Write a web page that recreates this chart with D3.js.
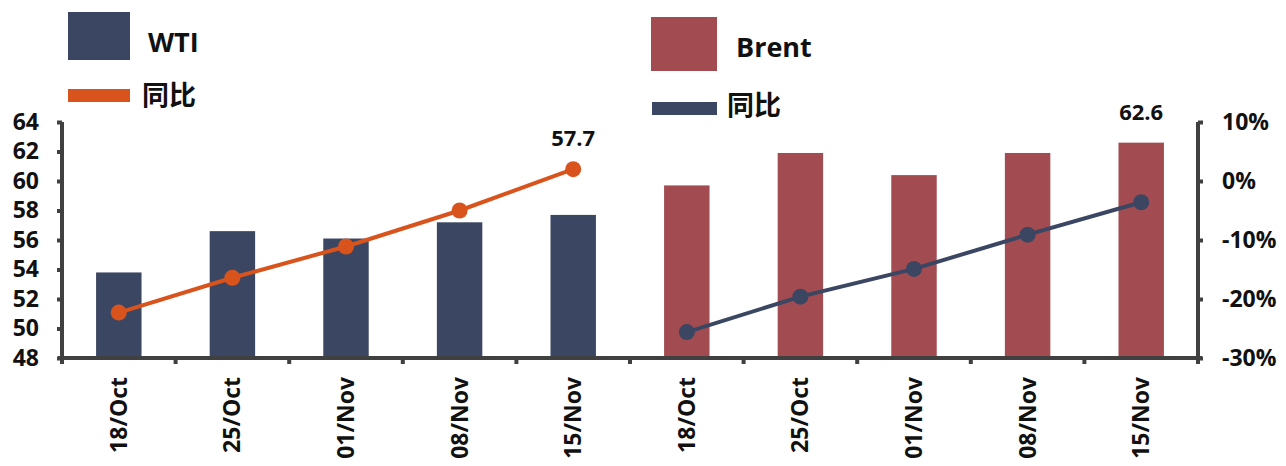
<!DOCTYPE html>
<html>
<head>
<meta charset="utf-8">
<script src="https://cdn.jsdelivr.net/npm/d3@7"></script>
<style>
  body { margin: 0; background: #fff; overflow: hidden; }
  text { font-family: "Open Sans", "Noto Sans CJK SC", sans-serif; font-weight: bold; fill: #111; }
</style>
</head>
<body>
<div id="screen"></div>
<script>
// weekly dates, used for both groups
const dates = ["18/Oct", "25/Oct", "01/Nov", "08/Nov", "15/Nov"];
// prices, left axis
const wtiPrice = [53.8, 56.6, 56.1, 57.2, 57.7];
const brentPrice = [59.7, 61.9, 60.4, 61.9, 62.6];
// year on year change (%), right axis
const wtiYoy = [-22.3, -16.4, -11.1, -5.0, 2.0];
const brentYoy = [-25.6, -19.6, -14.9, -9.1, -3.6];
const leftTicks = [48, 50, 52, 54, 56, 58, 60, 62, 64];
const rightTicks = [-30, -20, -10, 0, 10];

const W = 1286, H = 466;
const margin = {left: 62, right: 88, top: 122, bottom: 108};
const navy = "#3b4663", brick = "#a24c52", orange = "#d9541d", axisCol = "#404040";

var svg = d3.select("#screen").append("svg").attr("width", W).attr("height", H);

var keys = dates.map(d => "W" + d).concat(dates.map(d => "B" + d));
var x = d3.scaleBand().domain(keys).range([margin.left, W - margin.right]).paddingInner(0.6).paddingOuter(0.3);
var step = (W - margin.right - margin.left) / keys.length;
var yL = d3.scaleLinear().domain([48, 64]).range([H - margin.bottom, margin.top]);
var yR = d3.scaleLinear().domain([-30, 10]).range([H - margin.bottom, margin.top]);

var groups = [
    {name: "WTI", price: wtiPrice, yoy: wtiYoy, bar: navy, line: orange, pre: "W"},
    {name: "Brent", price: brentPrice, yoy: brentYoy, bar: brick, line: navy, pre: "B"}
];

// bars
groups.forEach(g => {
    svg.selectAll(null).data(g.price).enter().append("rect")
        .attr("x", (d, i) => x(g.pre + dates[i]))
        .attr("width", x.bandwidth())
        .attr("y", d => yL(d))
        .attr("height", d => yL(48) - yL(d))
        .attr("fill", g.bar);
});

// axes
var bottomY = H - margin.bottom;
var axisL = svg.append("g").attr("transform", "translate(" + margin.left + ",0)")
    .call(d3.axisLeft(yL).tickValues(leftTicks).tickSize(5).tickPadding(18));
var axisR = svg.append("g").attr("transform", "translate(" + (W - margin.right) + ",0)")
    .call(d3.axisRight(yR).tickValues(rightTicks).tickSize(5).tickPadding(19).tickFormat(d => d + "%"));

[axisL, axisR].forEach(a => {
    a.select(".domain").attr("stroke", axisCol).attr("stroke-width", 4)
        .attr("d", "M0," + margin.top + "V" + bottomY);
    a.selectAll(".tick line").attr("stroke", axisCol).attr("stroke-width", 4);
    a.selectAll(".tick text").style("font-size", "23px").attr("fill", "#111");
});

var xTicks = d3.range(keys.length + 1).map(i => margin.left + i * step);
var axisB = svg.append("g");
axisB.selectAll("line.tk").data(xTicks).enter().append("line")
    .attr("x1", d => d).attr("x2", d => d)
    .attr("y1", bottomY).attr("y2", bottomY + 6)
    .attr("stroke", axisCol).attr("stroke-width", 4);
axisB.append("line")
    .attr("x1", margin.left - 4).attr("x2", W - margin.right + 4)
    .attr("y1", bottomY).attr("y2", bottomY)
    .attr("stroke", axisCol).attr("stroke-width", 4);

// category labels
svg.selectAll("text.cat").data(keys).enter().append("text")
    .attr("class", "cat")
    .attr("transform", d => "translate(" + (x(d) + x.bandwidth() / 2) + "," + (bottomY + 19) + ") rotate(-90)")
    .attr("text-anchor", "end")
    .attr("dy", "0.35em")
    .style("font-size", "23px")
    .text(d => d.slice(1));

// lines
groups.forEach(g => {
    var pts = g.yoy.map((v, i) => [x(g.pre + dates[i]) + x.bandwidth() / 2, yR(v)]);
    svg.append("path").attr("d", d3.line()(pts))
        .attr("fill", "none").attr("stroke", g.line).attr("stroke-width", 4);
    svg.selectAll(null).data(pts).enter().append("circle")
        .attr("cx", d => d[0]).attr("cy", d => d[1]).attr("r", 8)
        .attr("fill", g.line);
    // last value label, above whichever mark is higher
    var last = g.price.length - 1;
    svg.append("text")
        .attr("x", x(g.pre + dates[last]) + x.bandwidth() / 2)
        .attr("y", Math.min(yL(g.price[last]), yR(g.yoy[last])) - 23)
        .attr("text-anchor", "middle")
        .style("font-size", "22px")
        .text(g.price[last].toFixed(1));
});

// legends
var legend = [
    {x: 68, y: 12, w: 62, h: 48, col: navy, label: "WTI", tx: 148, ty: 52},
    {x: 651, y: 17, w: 66, h: 54, col: brick, label: "Brent", tx: 736, ty: 57}
];
legend.forEach(l => {
    svg.append("rect").attr("x", l.x).attr("y", l.y).attr("width", l.w).attr("height", l.h).attr("fill", l.col);
    svg.append("text").attr("x", l.tx).attr("y", l.ty).style("font-size", "27px").text(l.label);
});
var legendLines = [
    {x: 68, y: 89, w: 62, col: orange, tx: 142, ty: 105},
    {x: 652, y: 102, w: 65, col: navy, tx: 727, ty: 115}
];
legendLines.forEach(l => {
    svg.append("rect").attr("x", l.x).attr("y", l.y).attr("width", l.w).attr("height", 13).attr("fill", l.col);
    svg.append("text").attr("x", l.tx).attr("y", l.ty)
        .style("font-family", "'Noto Sans CJK SC'").style("font-size", "27px").text("同比");
});
</script>
</body>
</html>
